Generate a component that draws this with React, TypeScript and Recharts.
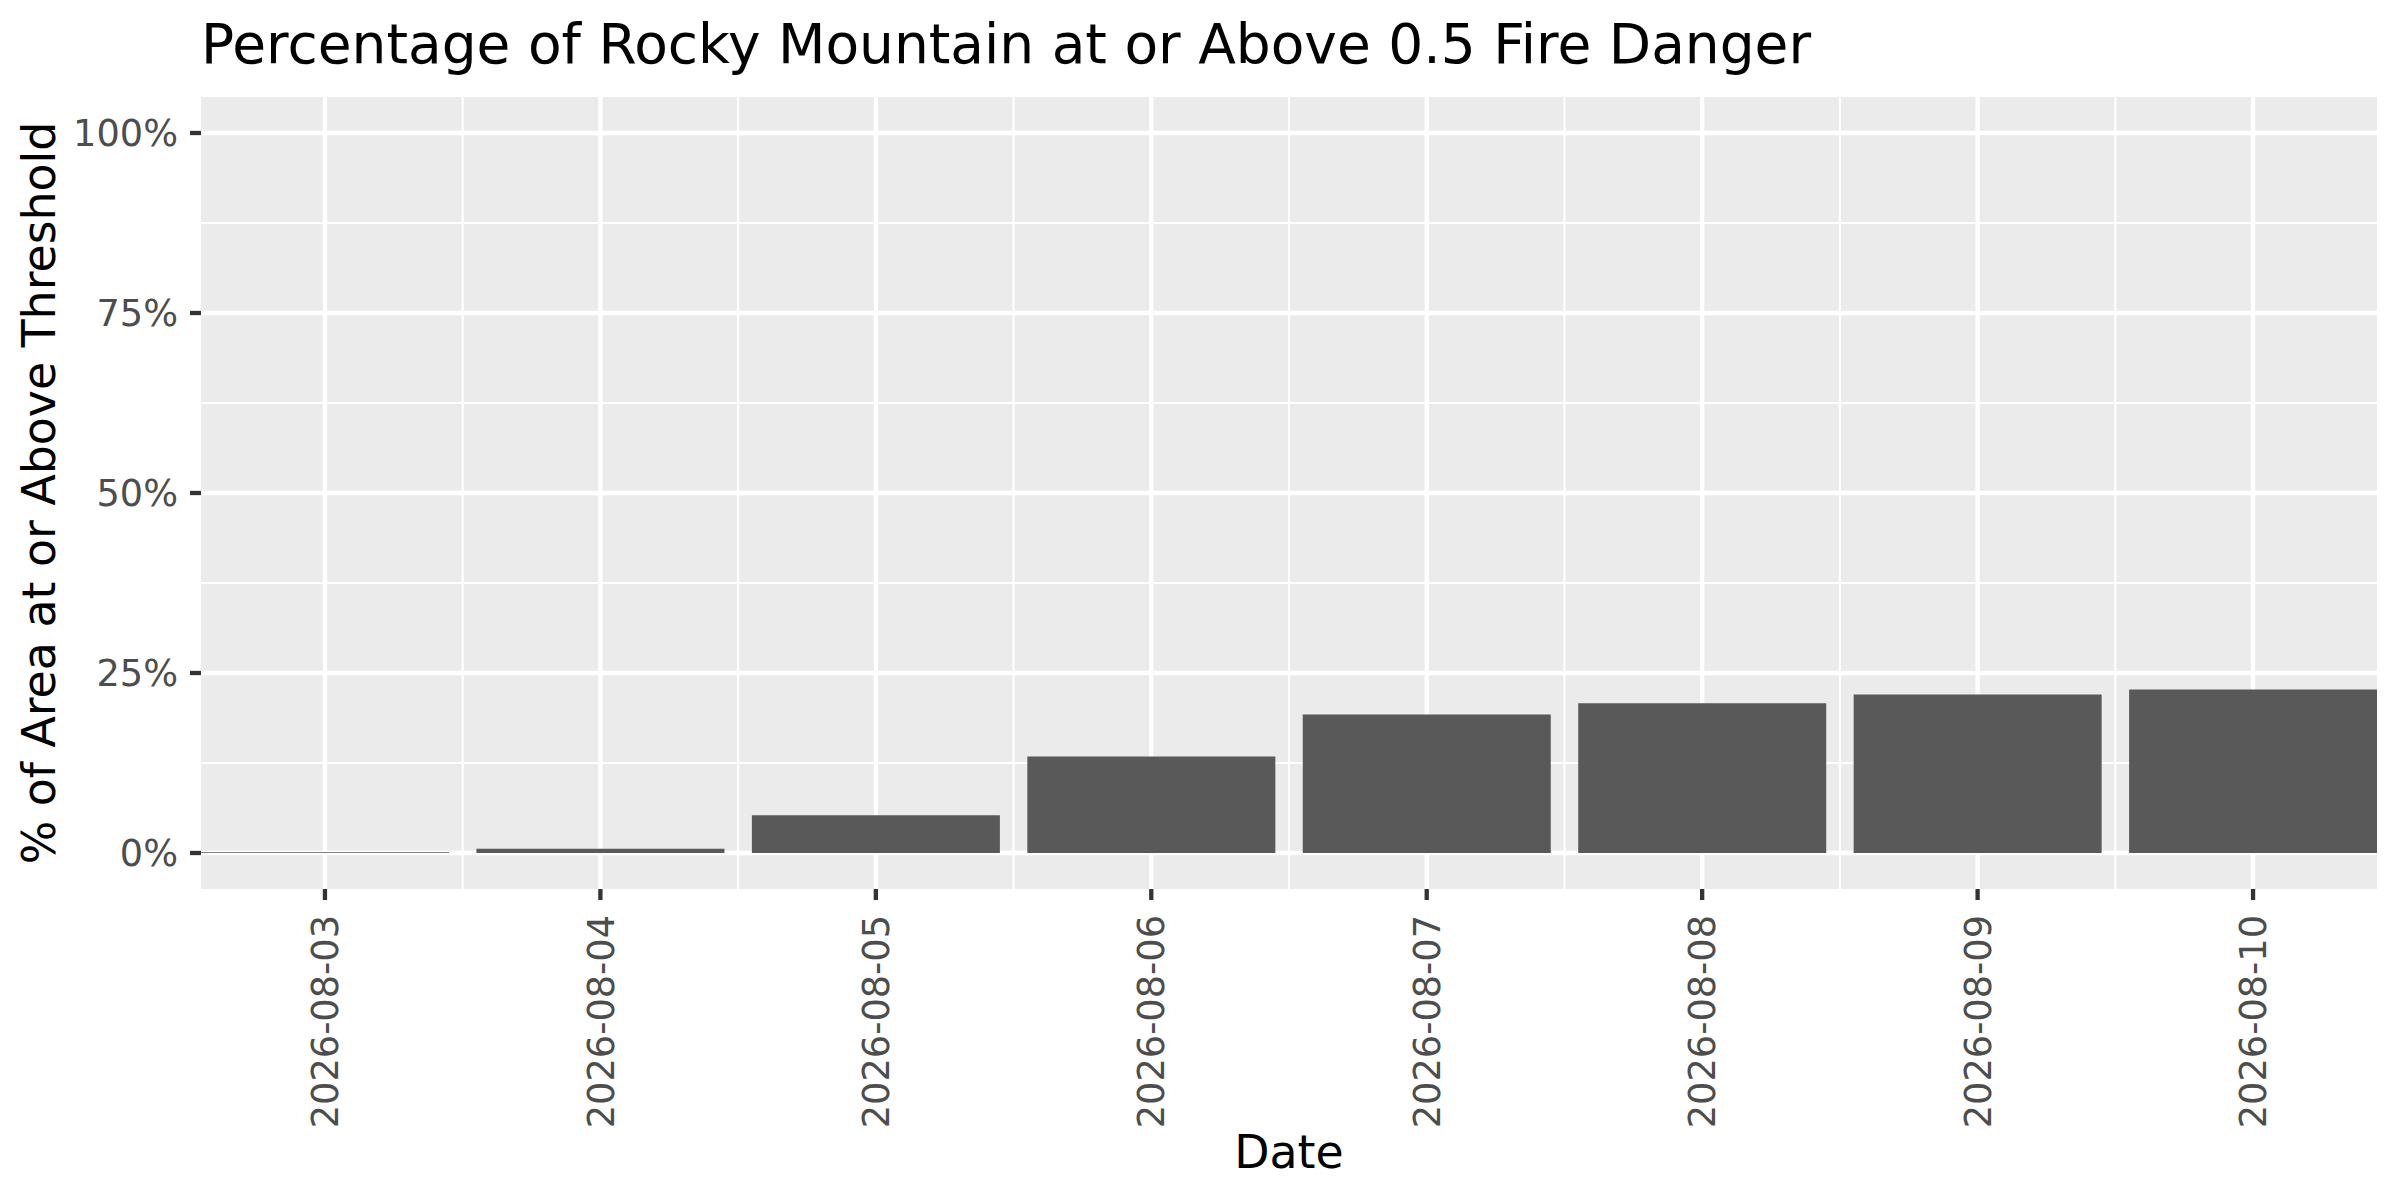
import React from 'react'
import { BarChart, Bar, XAxis, YAxis, CartesianGrid } from 'recharts'

const dates = ['2026-08-03', '2026-08-04', '2026-08-05', '2026-08-06', '2026-08-07', '2026-08-08', '2026-08-09', '2026-08-10']
const pctAbove = [0.1, 0.6, 5.26, 13.4, 19.25, 20.8, 22.0, 22.7]
const yTicks = [0, 25, 50, 75, 100]
const yMinor = [12.5, 37.5, 62.5, 87.5]
const xTicks = [1, 2, 3, 4, 5, 6, 7, 8]
const xMinor = [1.5, 2.5, 3.5, 4.5, 5.5, 6.5, 7.5]

const data = dates.map((d, i) => ({ idx: i + 1, date: d, pct: pctAbove[i] }))

const FONT = '"DejaVu Sans", sans-serif'

const XTick = ({ x, y, payload }: any) => (
  <text
    x={x}
    y={y}
    dy="0.36em"
    transform={`rotate(-90 ${x} ${y})`}
    textAnchor="end"
    fontSize={36.7}
    fill="#4D4D4D"
    fontFamily={FONT}
  >
    {dates[payload.value - 1]}
  </text>
)

export default function App() {
  return (
    <div style={{ position: 'absolute', left: 0, top: 0, width: 2400, height: 1200, background: '#fff' }}>
      <BarChart
        width={2400}
        height={1200}
        data={data}
        margin={{ top: 97, right: 23, bottom: 61, left: 81 }}
        barCategoryGap="5%"
      >
        <CartesianGrid fill="#EBEBEB" stroke="#FFFFFF" strokeWidth={2.1} horizontalValues={yMinor} verticalValues={xMinor} />
        <CartesianGrid stroke="#FFFFFF" strokeWidth={4.3} horizontalValues={yTicks} verticalValues={xTicks} />
        <XAxis
          dataKey="idx"
          type="number"
          domain={[0.55, 8.45]}
          allowDataOverflow
          ticks={xTicks}
          interval={0}
          height={250}
          axisLine={false}
          tickLine={{ stroke: '#333333', strokeWidth: 4.3 }}
          tickSize={11}
          tickMargin={15}
          tick={<XTick />}
        />
        <YAxis
          type="number"
          domain={[-5, 105]}
          allowDataOverflow
          ticks={yTicks}
          interval={0}
          width={120}
          axisLine={false}
          tickLine={{ stroke: '#333333', strokeWidth: 4.3 }}
          tickSize={11}
          tickMargin={12}
          tickFormatter={(v: number) => `${v}%`}
          tick={{ fontSize: 36.7, fill: '#4D4D4D', fontFamily: FONT }}
        />
        <Bar dataKey="pct" fill="#595959" isAnimationActive={false} />
      </BarChart>
      <svg width={2400} height={1200} style={{ position: 'absolute', left: 0, top: 0, pointerEvents: 'none' }}>
        <text x={201} y={63} fontSize={55} fontFamily={FONT} fill="#000">
          Percentage of Rocky Mountain at or Above 0.5 Fire Danger
        </text>
        <text x={55} y={493} transform="rotate(-90 55 493)" textAnchor="middle" fontSize={45.8} fontFamily={FONT} fill="#000">
          % of Area at or Above Threshold
        </text>
        <text x={1289} y={1168} textAnchor="middle" fontSize={45.8} fontFamily={FONT} fill="#000">
          Date
        </text>
      </svg>
    </div>
  )
}
